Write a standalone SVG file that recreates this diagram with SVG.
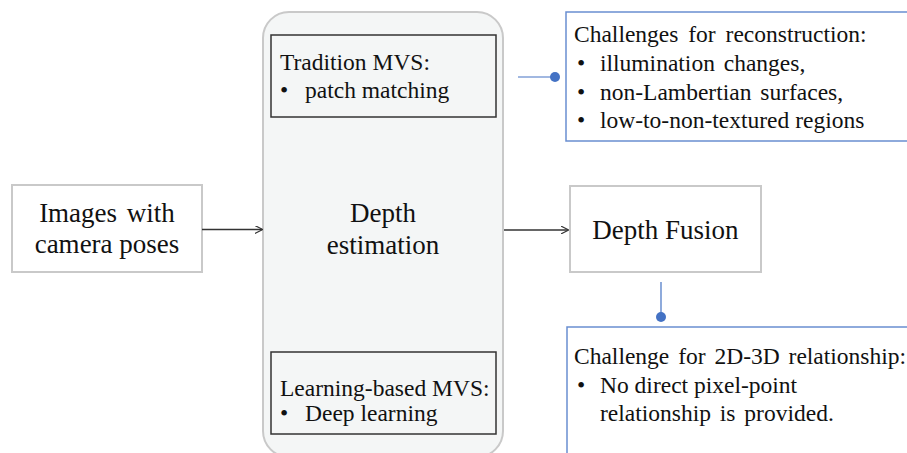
<svg xmlns="http://www.w3.org/2000/svg" width="907" height="453" viewBox="0 0 907 453">
<defs>
<style>
text{font-family:'Liberation Serif','Times New Roman','DejaVu Serif',serif;fill:#111}
.big{font-size:27px}
.sm{font-size:23.5px}
.gbox{fill:#fff;stroke:#c9c9c9;stroke-width:2}
.dbox{fill:#f4f6f6;stroke:#333;stroke-width:1.5}
.bbox{fill:#fff;stroke:#4472c4;stroke-width:1.5;stroke-opacity:0.8}
.arrow{stroke:#333;stroke-width:1.5;fill:none;marker-end:url(#ah)}
.blue{stroke:#4472c4;stroke-width:1.2;fill:none}
</style>
<marker id="ah" viewBox="0 0 10 10" refX="9" refY="5" markerWidth="8" markerHeight="8" markerUnits="userSpaceOnUse" orient="auto">
<path d="M0,0 L10,5 L0,10" fill="none" stroke="#333" stroke-width="1.5"/>
</marker>
</defs>
<rect width="907" height="453" fill="#fff"/>
<g id="images">
<rect class="gbox" x="12" y="185" width="190" height="87"/>
<text class="big" x="107" y="222" text-anchor="middle" word-spacing="3">Images with</text>
<text class="big" x="107" y="253" text-anchor="middle">camera poses</text>
</g>
<g id="depth-estimation">
<rect x="263" y="12" width="240" height="445" rx="26" fill="#f4f6f6" stroke="#c9c9c9" stroke-width="2"/>
<text class="big" x="383" y="222" text-anchor="middle">Depth</text>
<text class="big" x="383" y="254" text-anchor="middle">estimation</text>
</g>
<g id="tradition">
<rect class="dbox" x="271" y="35" width="225" height="82"/>
<text class="sm" x="280" y="70">Tradition MVS:</text>
<text class="sm" x="280" y="98">•</text>
<text class="sm" x="305" y="98">patch matching</text>
</g>
<g id="learning">
<rect class="dbox" x="271" y="352" width="225" height="82"/>
<text class="sm" x="280" y="396">Learning-based MVS:</text>
<text class="sm" x="280" y="421">•</text>
<text class="sm" x="305" y="421">Deep learning</text>
</g>
<g id="depth-fusion">
<rect class="gbox" x="570" y="186" width="191" height="86"/>
<text class="big" x="665.5" y="239" text-anchor="middle">Depth Fusion</text>
</g>
<g id="challenges-recon">
<rect class="bbox" x="566" y="12" width="345" height="129"/>
<text class="sm" x="574" y="42" word-spacing="4">Challenges for reconstruction:</text>
<text class="sm" x="577" y="71">•</text>
<text class="sm" x="600" y="71" word-spacing="3">illumination changes,</text>
<text class="sm" x="577" y="100">•</text>
<text class="sm" x="600" y="100" word-spacing="3">non-Lambertian surfaces,</text>
<text class="sm" x="577" y="128">•</text>
<text class="sm" x="600" y="128">low-to-non-textured regions</text>
</g>
<g id="challenge-2d3d">
<rect class="bbox" x="567" y="327" width="345" height="140"/>
<text class="sm" x="574" y="364" word-spacing="3">Challenge for 2D-3D relationship:</text>
<text class="sm" x="577" y="393">•</text>
<text class="sm" x="600" y="393">No direct pixel-point</text>
<text class="sm" x="600" y="421" word-spacing="3">relationship is provided.</text>
</g>
<g id="connectors">
<line class="arrow" x1="202" y1="229.5" x2="262" y2="229.5"/>
<line class="arrow" x1="504" y1="230" x2="568" y2="230"/>
<line class="blue" x1="518" y1="77" x2="555" y2="77"/>
<circle cx="555" cy="77" r="5" fill="#4472c4"/>
<line class="blue" x1="661" y1="282" x2="661" y2="317"/>
<circle cx="661" cy="317" r="5" fill="#4472c4"/>
</g>
</svg>
